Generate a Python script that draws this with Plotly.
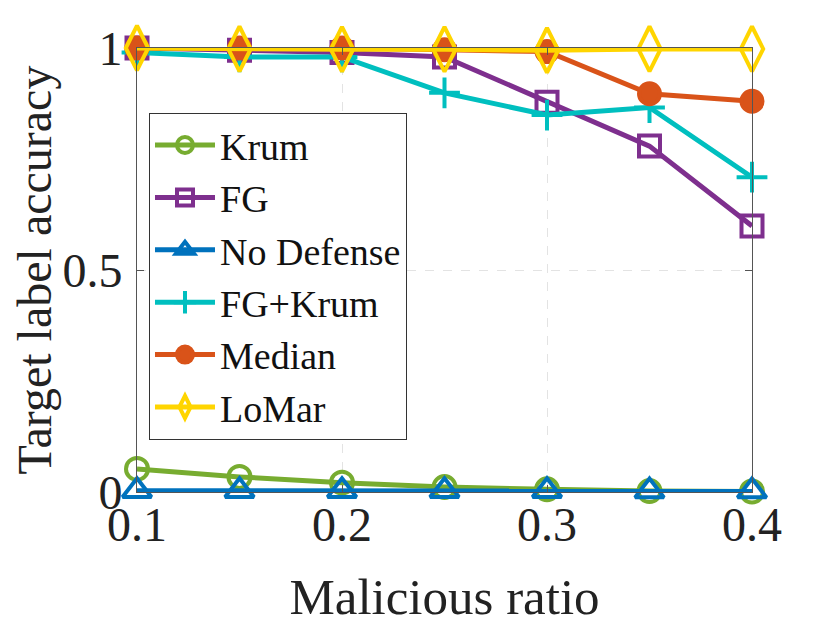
import plotly.graph_objects as go

# malicious ratio on x, target label accuracy on y
ratios = [0.1, 0.15, 0.2, 0.25, 0.3, 0.35, 0.4]

krum = [0.052, 0.034, 0.021, 0.011, 0.006, 0.002, 0.001]
fg = [1.0, 0.995, 0.99, 0.98, 0.878, 0.779, 0.599]
no_defense = [0.003, 0.003, 0.003, 0.003, 0.003, 0.002, 0.002]
fg_krum = [0.99, 0.98, 0.98, 0.899, 0.849, 0.866, 0.709]
median = [1.0, 1.0, 1.0, 0.996, 0.992, 0.897, 0.88]
lomar = [1.0, 0.998, 0.997, 0.997, 0.995, 0.998, 0.998]

x_ticks = [0.1, 0.2, 0.3, 0.4]
y_ticks = [0, 0.5, 1]
y_tick_labels = ["0", "0.5", "1"]

FONT = "Liberation Serif, Times New Roman, serif"

series = [
    ("Krum", krum, "#77AC30", "circle-open", 22),
    ("FG", fg, "#7E2F8E", "square-open", 21),
    ("No Defense", no_defense, "#0072BD", "triangle-up-open", 25),
    ("FG+Krum", fg_krum, "#00BFBF", "cross-thin-open", 22),
    ("Median", median, "#D95319", "circle", 21),
    ("LoMar", lomar, "#FFD500", "diamond-tall-open", 32),
]

fig = go.Figure()
for name, values, color, symbol, size in series:
    fig.add_trace(
        go.Scatter(
            x=ratios,
            y=values,
            mode="lines+markers",
            name=name,
            cliponaxis=False,
            line=dict(color=color, width=5),
            marker=dict(symbol=symbol, size=size, color=color, line=dict(color=color, width=4)),
        )
    )

axis_common = dict(
    showline=True,
    linecolor="#555555",
    linewidth=1,
    mirror="ticks",
    ticks="inside",
    ticklen=7,
    tickcolor="#555555",
    showgrid=True,
    gridcolor="#e3e3e3",
    griddash="dash",
    gridwidth=1,
    zeroline=False,
    tickfont=dict(family=FONT, size=48, color="#222222"),
)

fig.update_xaxes(
    range=[0.1, 0.4],
    tickvals=x_ticks,
    ticktext=[f"{v:.1f}" for v in x_ticks],
    ticklabelstandoff=-10,
    title=dict(text="Malicious ratio", font=dict(family=FONT, size=51, color="#222222"), standoff=28),
    **axis_common,
)
fig.update_yaxes(
    range=[0, 1],
    tickvals=y_ticks,
    ticktext=y_tick_labels,
    ticklabelstandoff=4,
    title=dict(text="Target label accuracy", font=dict(family=FONT, size=48, color="#222222"), standoff=2),
    **axis_common,
)

fig.update_layout(
    width=830,
    height=625,
    margin=dict(l=129, r=86, t=40, b=141),
    paper_bgcolor="white",
    plot_bgcolor="white",
    font=dict(family=FONT, color="#222222"),
    legend=dict(
        x=0.0195,
        y=0.854,
        xanchor="left",
        yanchor="top",
        bgcolor="white",
        bordercolor="#333333",
        borderwidth=1,
        itemwidth=60,
        font=dict(family=FONT, size=38, color="#111111"),
        tracegroupgap=0,
    ),
)

fig.write_html("out.html")
